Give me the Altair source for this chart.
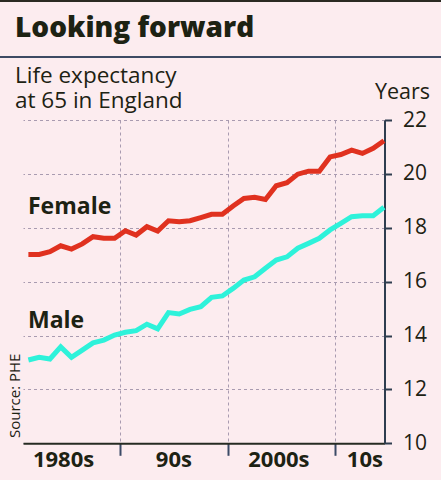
import altair as alt
import pandas as pd

# Life expectancy at 65 in England, years 1981-2014
years = list(range(1981, 2015))
female = [17.01, 17.01, 17.11, 17.33, 17.21, 17.40, 17.67, 17.61, 17.61, 17.89,
          17.73, 18.04, 17.88, 18.26, 18.22, 18.26, 18.38, 18.50, 18.50, 18.81,
          19.09, 19.13, 19.05, 19.56, 19.67, 19.99, 20.10, 20.10, 20.63, 20.72,
          20.88, 20.76, 20.95, 21.23]
male = [13.09, 13.19, 13.13, 13.58, 13.19, 13.46, 13.73, 13.83, 14.02, 14.12,
        14.18, 14.42, 14.25, 14.85, 14.80, 14.97, 15.07, 15.42, 15.47, 15.75,
        16.06, 16.18, 16.50, 16.80, 16.92, 17.24, 17.42, 17.61, 17.92, 18.16,
        18.41, 18.45, 18.45, 18.76]

series_names = ["Female", "Male"]
series_colors = ["#e0311f", "#2ef2da"]
decade_labels = ["1980s", "90s", "2000s", "10s"]
decade_label_at = [1984.76, 1995.0, 2004.75, 2012.73]
decade_ticks = [1990, 2000, 2010]
y_ticks = [10, 12, 14, 16, 18, 20, 22]

INK = "#1d2213"
FONT = "Open Sans"

rows = []
for name, vals in zip(series_names, [female, male]):
    for yr, v in zip(years, vals):
        rows.append({"t": yr + 0.5, "value": v, "series": name})
df = pd.DataFrame(rows)

x_scale = alt.Scale(domain=[1981, 2014.55], nice=False, zero=False)
y_scale = alt.Scale(domain=[10, 22], nice=False, zero=False)
color_scale = alt.Scale(domain=series_names, range=series_colors)

lines = alt.Chart(df).mark_line(strokeWidth=5).encode(
    x=alt.X("t:Q", scale=x_scale,
            axis=alt.Axis(values=decade_ticks, labels=False, title=None,
                          tickSize=12, tickWidth=2, tickColor="#3b4a66",
                          domainColor="#262b22", domainWidth=2,
                          grid=True, gridDash=[3, 3], gridColor="#a99bb0",
                          gridWidth=1)),
    y=alt.Y("value:Q", scale=y_scale,
            axis=alt.Axis(orient="right", values=y_ticks, title=None,
                          labelFontSize=21, labelColor=INK, labelFont=FONT,
                          labelPadding=11, tickSize=7, tickWidth=2,
                          tickColor="#2f3d4f", domainColor="#2f3d4f",
                          domainWidth=2, grid=True, gridDash=[3, 3],
                          gridColor="#a99bb0", gridWidth=1)),
    color=alt.Color("series:N", scale=color_scale, legend=None),
    detail="series:N",
)

# Series labels placed in data space
lab_df = pd.DataFrame({
    "series": series_names,
    "t": [1981.46, 1981.46],
    "value": [18.51, 14.27],
})
series_text = alt.Chart(lab_df).mark_text(
    align="left", baseline="alphabetic", fontSize=23, fontWeight="bold",
    font=FONT, color=INK,
).encode(x=alt.X("t:Q", scale=x_scale), y=alt.Y("value:Q", scale=y_scale),
         text="series:N")

dec_df = pd.DataFrame({"label": decade_labels, "t": decade_label_at})
decade_text = alt.Chart(dec_df).mark_text(
    align="center", baseline="alphabetic", fontSize=22, fontWeight="bold",
    font=FONT, color=INK,
).encode(x=alt.X("t:Q", scale=x_scale), y=alt.value(346.7), text="label:N")

# Header elements, positioned relative to the plot area
top_rule = alt.Chart().mark_rule(color="#2b2a22", strokeWidth=2).encode(
    x=alt.value(-23), x2=alt.value(418), y=alt.value(-119))
sep_rule = alt.Chart().mark_rule(color="#3d4a63", strokeWidth=2).encode(
    x=alt.value(-23), x2=alt.value(418), y=alt.value(-63))
title = alt.Chart().mark_text(
    align="left", baseline="alphabetic", fontSize=28, fontWeight=800,
    font=FONT, color=INK,
).encode(x=alt.value(-8), y=alt.value(-83), text=alt.value("Looking forward"))
sub_line1 = alt.Chart().mark_text(
    align="left", baseline="alphabetic", fontSize=22.5, font=FONT, color=INK,
).encode(x=alt.value(-8), y=alt.value(-37), text=alt.value("Life expectancy"))
sub_line2 = alt.Chart().mark_text(
    align="left", baseline="alphabetic", fontSize=22.5, font=FONT, color=INK,
).encode(x=alt.value(-8), y=alt.value(-12), text=alt.value("at 65 in England"))
units = alt.Chart().mark_text(
    align="right", baseline="alphabetic", fontSize=21.5, font=FONT, color=INK,
).encode(x=alt.value(407), y=alt.value(-21), text=alt.value("Years"))
source = alt.Chart().mark_text(
    align="left", baseline="middle", angle=270, fontSize=15, font=FONT,
    color=INK,
).encode(x=alt.value(-8), y=alt.value(318), text=alt.value("Source: PHE"))

chart = alt.layer(
    lines, series_text, decade_text, top_rule, sep_rule, title, sub_line1,
    sub_line2, units, source,
).properties(
    width=361.5, height=323.3, autosize="none",
    padding={"left": 23, "top": 120, "right": 56.5, "bottom": 36.7},
    background="#fcecef",
).configure_view(strokeWidth=0)

chart.save("out.html", embed_options={"renderer": "svg", "actions": False})
